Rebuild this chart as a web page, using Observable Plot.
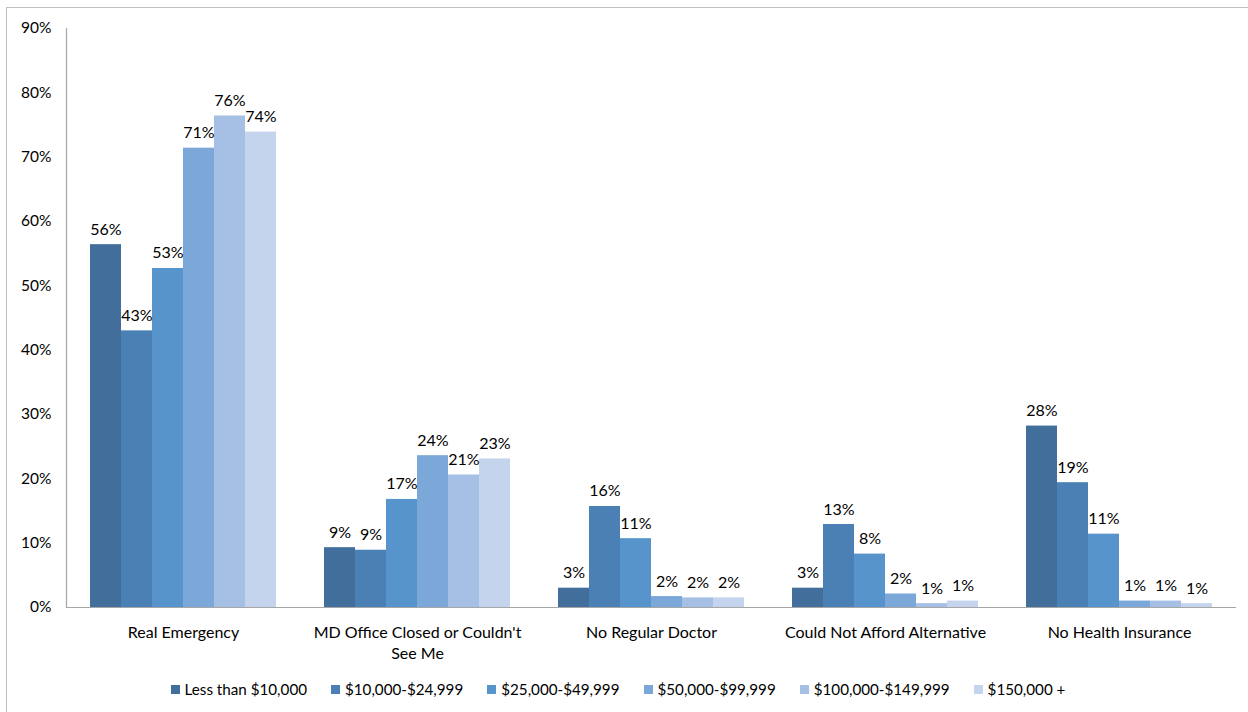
<!DOCTYPE html>
<html>
<head>
<meta charset="utf-8">
<script src="https://cdn.jsdelivr.net/npm/d3@7"></script>
<script src="https://cdn.jsdelivr.net/npm/@observablehq/plot@0.6"></script>
<style>
  html, body { margin: 0; padding: 0; background: #fff; }
  body { width: 1248px; height: 712px; position: relative; overflow: hidden; font-family: Lato, "Open Sans", sans-serif; }
  #frame { position: absolute; left: 6px; top: 7px; width: 1250px; height: 720px; border: 1px solid #bfbfbf; box-sizing: border-box; }
  #chart { position: absolute; left: 0; top: 0; }
  #legend { position: absolute; left: 0; top: 680px; width: 1248px; display: flex; justify-content: center; gap: 24px; font-size: 15.2px; color: #000; padding-right: 12px; box-sizing: border-box; }
  .item { display: flex; align-items: center; gap: 5px; white-space: nowrap; }
  .sw { width: 9px; height: 9px; display: inline-block; }
</style>
</head>
<body>
<div id="frame"></div>
<div id="chart"></div>
<div id="legend"></div>
<script>
const categories = ["Real Emergency", "MD Office Closed or Couldn't See Me", "No Regular Doctor", "Could Not Afford Alternative", "No Health Insurance"];
const categoryTickLabels = ["Real Emergency", "MD Office Closed or Couldn't\nSee Me", "No Regular Doctor", "Could Not Afford Alternative", "No Health Insurance"];
const incomeGroups = ["Less than $10,000", "$10,000-$24,999", "$25,000-$49,999", "$50,000-$99,999", "$100,000-$149,999", "$150,000 +"];
const seriesColors = ["#416e9b", "#4a80b4", "#5694cb", "#7ba8d8", "#a5c0e4", "#c4d4ec"];

const realEmergency   = [56.4, 43.0, 52.7, 71.4, 76.4, 73.9];
const mdOfficeClosed  = [9.3, 8.9, 16.8, 23.6, 20.6, 23.1];
const noRegularDoctor = [3.0, 15.7, 10.7, 1.7, 1.5, 1.5];
const couldNotAfford  = [3.0, 12.9, 8.3, 2.1, 0.6, 1.0];
const noInsurance     = [28.2, 19.4, 11.4, 1.0, 1.0, 0.6];
const yTicks = [0, 10, 20, 30, 40, 50, 60, 70, 80, 90];

const seriesByCategory = [realEmergency, mdOfficeClosed, noRegularDoctor, couldNotAfford, noInsurance];
const data = [];
categories.forEach((c, i) => {
  incomeGroups.forEach((g, j) => {
    data.push({category: c, group: g, value: seriesByCategory[i][j]});
  });
});

const tickLabelOf = new Map(categories.map((c, i) => [c, categoryTickLabels[i]]));
const font = "Lato, 'Open Sans', sans-serif";

const plot = Plot.plot({
  width: 1248,
  height: 665,
  marginTop: 28,
  marginBottom: 58,
  marginLeft: 66,
  marginRight: 12,
  style: {fontFamily: font, fontSize: "15px", color: "#000", background: "transparent"},
  fx: {domain: categories, padding: 0, label: null},
  x: {domain: incomeGroups, paddingInner: 0, paddingOuter: 0.75, axis: null},
  y: {domain: [0, 90], label: null},
  color: {domain: incomeGroups, range: seriesColors},
  marks: [
    Plot.barY(data, {fx: "category", x: "group", y: "value", fill: "group"}),
    Plot.ruleY([0], {stroke: "#a6a6a6", strokeWidth: 1.2}),
    Plot.frame({anchor: "left", facetAnchor: "left", stroke: "#a6a6a6", strokeWidth: 1.2}),
    Plot.axisY({ticks: yTicks, tickSize: 0, tickPadding: 15, tickFormat: d => d + "%", fontSize: 15.5, label: null}),
    Plot.axisFx({anchor: "bottom", tickSize: 0, tickPadding: 16, tickFormat: d => tickLabelOf.get(d), fontSize: 16, label: null, lineHeight: 1.3}),
    Plot.text(data, {fx: "category", x: "group", y: "value", text: d => Math.round(d.value) + "%", lineAnchor: "bottom", dy: -10, fontSize: 16, fill: "#000"})
  ]
});
document.getElementById("chart").appendChild(plot);

const legend = document.getElementById("legend");
incomeGroups.forEach((g, i) => {
  const item = document.createElement("div");
  item.className = "item";
  const sw = document.createElement("span");
  sw.className = "sw";
  sw.style.background = seriesColors[i];
  const t = document.createElement("span");
  t.textContent = g;
  item.appendChild(sw);
  item.appendChild(t);
  legend.appendChild(item);
});
</script>
</body>
</html>
